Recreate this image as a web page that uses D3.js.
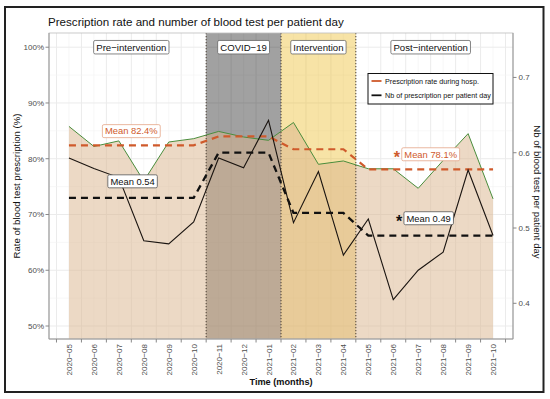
<!DOCTYPE html>
<html>
<head>
<meta charset="utf-8">
<script src="https://cdn.jsdelivr.net/npm/d3@7"></script>
<style>
  html, body { margin: 0; padding: 0; background: #fff; }
  svg { display: block; }
  text { font-family: "Liberation Sans", Arial, Helvetica, sans-serif; }
</style>
</head>
<body>
<svg id="chart" width="550" height="399"></svg>
<script>
// ---------- data ----------
const months = ["2020-05","2020-06","2020-07","2020-08","2020-09","2020-10","2020-11","2020-12","2021-01",
                "2021-02","2021-03","2021-04","2021-05","2021-06","2021-07","2021-08","2021-09","2021-10"];
const prescriptionRate = [85.8, 82.2, 83.2, 76.0, 83.0, 83.6, 84.9, 83.9, 83.3,
                          86.5, 79.0, 79.6, 78.2, 78.2, 74.7, 79.7, 84.5, 72.8];
const testsPerPatientDay = [0.593, 0.579, 0.567, 0.483, 0.479, 0.508, 0.593, 0.580, 0.643,
                            0.507, 0.575, 0.464, 0.512, 0.405, 0.444, 0.468, 0.577, 0.490];
const phases = ["Pre-intervention", "COVID-19", "Intervention", "Post-intervention"];
const phaseFirst = [0, 6, 9, 12];
const phaseLast = [5, 8, 11, 17];
const rateMeans = [82.4, 84.0, 81.7, 78.1];
const nbMeans = [0.54, 0.60, 0.52, 0.49];
const leftTicks = [50, 60, 70, 80, 90, 100];
const rightTicks = [0.4, 0.5, 0.6, 0.7];
const legendLabels = ["Prescription rate during hosp.", "Nb of prescription per patient day"];

// ---------- layout ----------
const svg = d3.select("#chart");
const L = 49, R = 513, T = 33, B = 339;
const dash = s => s.replace(/-/g, "\u2212");

const x = d3.scaleLinear().domain([-0.8, 17.8]).range([L, R]);
const yL = d3.scaleLinear().domain([47.67, 102.55]).range([B, T]);
const yR = d3.scaleLinear().domain([0.3526, 0.7590]).range([B, T]);

const idx = months.map((m, i) => i);
const phaseOf = i => phaseFirst.findIndex((f, p) => i >= f && i <= phaseLast[p]);
const rateMeanSeries = idx.map(i => rateMeans[phaseOf(i)]);
const nbMeanSeries = idx.map(i => nbMeans[phaseOf(i)]);

// outer frame
svg.append("rect").attr("x", 5).attr("y", 7).attr("width", 538.5).attr("height", 385)
  .attr("fill", "#fff").attr("stroke", "#222").attr("stroke-width", 2);

// title
svg.append("text").attr("x", 48).attr("y", 26).attr("font-size", 11.6).attr("fill", "#111")
  .text("Prescription rate and number of blood test per patient day");

// ---------- grid ----------
const g = svg.append("g");
const minorX = idx;
const majorX = d3.range(-0.5, 18, 1);
g.selectAll(".gxm").data(minorX).enter().append("line")
  .attr("x1", d => x(d)).attr("x2", d => x(d)).attr("y1", T).attr("y2", B)
  .attr("stroke", "#f2f2f2").attr("stroke-width", 0.6);
g.selectAll(".gxM").data(majorX).enter().append("line")
  .attr("x1", d => x(d)).attr("x2", d => x(d)).attr("y1", T).attr("y2", B)
  .attr("stroke", "#ebebeb").attr("stroke-width", 1);
g.selectAll(".gym").data(d3.range(55, 101, 10)).enter().append("line")
  .attr("x1", L).attr("x2", R).attr("y1", d => yL(d)).attr("y2", d => yL(d))
  .attr("stroke", "#f2f2f2").attr("stroke-width", 0.6);
g.selectAll(".gyM").data(leftTicks).enter().append("line")
  .attr("x1", L).attr("x2", R).attr("y1", d => yL(d)).attr("y2", d => yL(d))
  .attr("stroke", "#ebebeb").attr("stroke-width", 1);

// ---------- phase rectangles ----------
const rectFill = [null, "rgba(0,0,0,0.37)", "rgba(235,185,32,0.40)", null];
phases.forEach((p, k) => {
  if (!rectFill[k]) return;
  svg.append("rect")
    .attr("x", x(phaseFirst[k] - 0.5)).attr("width", x(phaseLast[k] + 0.5) - x(phaseFirst[k] - 0.5))
    .attr("y", T).attr("height", B - T).attr("fill", rectFill[k]);
});

// ---------- area + green line ----------
svg.append("path").datum(idx)
  .attr("d", d3.area().x(i => x(i)).y0(B).y1(i => yL(prescriptionRate[i])))
  .attr("fill", "rgba(217,180,140,0.5)");
svg.append("path").datum(idx)
  .attr("d", d3.line().x(i => x(i)).y(i => yL(prescriptionRate[i])))
  .attr("fill", "none").attr("stroke", "#4a8d3c").attr("stroke-width", 1);

// dotted phase separators
[phaseLast[0], phaseLast[1], phaseLast[2]].forEach(l => {
  svg.append("line").attr("x1", x(l + 0.5)).attr("x2", x(l + 0.5)).attr("y1", T).attr("y2", B)
    .attr("stroke", "#4a3f33").attr("stroke-width", 1).attr("stroke-dasharray", "1.2,1.8");
});

// ---------- mean dashed lines ----------
svg.append("path").datum(idx)
  .attr("d", d3.line().x(i => x(i)).y(i => yL(rateMeanSeries[i])))
  .attr("fill", "none").attr("stroke", "#cf5a2b").attr("stroke-width", 2.2).attr("stroke-dasharray", "7,5");
svg.append("path").datum(idx)
  .attr("d", d3.line().x(i => x(i)).y(i => yR(nbMeanSeries[i])))
  .attr("fill", "none").attr("stroke", "#111").attr("stroke-width", 2.3).attr("stroke-dasharray", "7,5");

// black line
svg.append("path").datum(idx)
  .attr("d", d3.line().x(i => x(i)).y(i => yR(testsPerPatientDay[i])))
  .attr("fill", "none").attr("stroke", "#1a1410").attr("stroke-width", 1.1);

// ---------- panel border & axes ----------
svg.append("rect").attr("x", L).attr("y", T).attr("width", R - L).attr("height", B - T)
  .attr("fill", "none").attr("stroke", "#bdbdbd").attr("stroke-width", 0.8);
svg.append("line").attr("x1", L).attr("x2", L).attr("y1", T).attr("y2", B).attr("stroke", "#999");
svg.append("line").attr("x1", L).attr("x2", R).attr("y1", B).attr("y2", B).attr("stroke", "#999");
svg.append("line").attr("x1", R).attr("x2", R).attr("y1", T).attr("y2", B).attr("stroke", "#999");

const tickCol = "#4d4d4d";
leftTicks.forEach(t => {
  svg.append("line").attr("x1", L - 3.5).attr("x2", L).attr("y1", yL(t)).attr("y2", yL(t)).attr("stroke", "#888");
  svg.append("text").attr("x", L - 5).attr("y", yL(t)).attr("dy", "0.35em").attr("text-anchor", "end")
    .attr("font-size", 8).attr("fill", tickCol).text(t + "%");
});
rightTicks.forEach(t => {
  svg.append("line").attr("x1", R).attr("x2", R + 3.5).attr("y1", yR(t)).attr("y2", yR(t)).attr("stroke", "#888");
  svg.append("text").attr("x", R + 5.5).attr("y", yR(t)).attr("dy", "0.35em").attr("text-anchor", "start")
    .attr("font-size", 8).attr("fill", tickCol).text(t.toFixed(1));
});
majorX.forEach(t => {
  svg.append("line").attr("x1", x(t)).attr("x2", x(t)).attr("y1", B).attr("y2", B + 3.5).attr("stroke", "#888");
});
months.forEach((m, i) => {
  svg.append("text").attr("transform", `translate(${x(i) + 3},${B + 5}) rotate(-90)`)
    .attr("text-anchor", "end").attr("font-size", 8).attr("fill", tickCol).text(dash(m));
});

// axis titles
svg.append("text").attr("x", x(8.5)).attr("y", 385).attr("text-anchor", "middle")
  .attr("font-size", 9.2).attr("font-weight", "bold").attr("fill", "#111").text("Time (months)");
svg.append("text").attr("transform", `translate(19.5,${(T + B) / 2}) rotate(-90)`).attr("text-anchor", "middle")
  .attr("font-size", 9.6).attr("fill", "#111").text("Rate of blood test prescription (%)");
svg.append("text").attr("transform", `translate(533.5,${(T + B) / 2 + 6}) rotate(90)`).attr("text-anchor", "middle")
  .attr("font-size", 9.6).attr("fill", "#111").text("Nb of blood test per patient day");

// ---------- labels ----------
function label(cx, cy, txt, opts) {
  const gg = svg.append("g");
  const t = gg.append("text").attr("x", cx).attr("y", cy).attr("dy", "0.35em").attr("text-anchor", "middle")
    .attr("font-size", opts.size).attr("fill", opts.color).text(txt);
  const bb = t.node().getBBox();
  gg.insert("rect", "text").attr("x", bb.x - opts.padX).attr("y", cy - opts.h / 2)
    .attr("width", bb.width + 2 * opts.padX).attr("height", opts.h).attr("rx", 1.5)
    .attr("fill", "#fff").attr("stroke", opts.border).attr("stroke-width", 0.8);
  return bb;
}
phases.forEach((p, k) => {
  label(x((phaseFirst[k] + phaseLast[k]) / 2), yL(100), dash(p),
        { size: 9.6, color: "#111", border: "#666", padX: 2.6, h: 13.5 });
});
const orange = "#cf5a2b";
label(x((phaseFirst[0] + phaseLast[0]) / 2), yL(rateMeans[0] + 2.55), "Mean " + rateMeans[0] + "%",
      { size: 9.4, color: orange, border: "#e4a688", padX: 2.6, h: 13 });
label(x((phaseFirst[0] + phaseLast[0]) / 2 + 0.05), yR(nbMeans[0] + 0.022), "Mean " + nbMeans[0],
      { size: 9.4, color: "#111", border: "#555", padX: 2.6, h: 13 });
const cy1 = yL(rateMeans[3] + 2.7);
const b1 = label(x((phaseFirst[3] + phaseLast[3]) / 2), cy1, "Mean " + rateMeans[3] + "%",
      { size: 9.4, color: orange, border: "#e4a688", padX: 2.6, h: 13 });
svg.append("text").attr("x", b1.x - 7.5).attr("y", cy1 + 9).attr("text-anchor", "middle")
  .attr("font-size", 16).attr("font-weight", "bold").attr("fill", orange).text("*");
const cy2 = yR(nbMeans[3] + 0.023);
const b2 = label(x((phaseFirst[3] + phaseLast[3]) / 2 - 0.08), cy2, "Mean " + nbMeans[3],
      { size: 9.4, color: "#111", border: "#555", padX: 2.6, h: 13 });
svg.append("text").attr("x", b2.x - 7.5).attr("y", cy2 + 9).attr("text-anchor", "middle")
  .attr("font-size", 16).attr("font-weight", "bold").attr("fill", "#111").text("*");

// ---------- legend ----------
const lg = svg.append("g");
lg.append("rect").attr("x", 368).attr("y", 73.5).attr("width", 125).attr("height", 30.5)
  .attr("fill", "#fff").attr("stroke", "#111").attr("stroke-width", 1);
const legendCols = [orange, "#111"];
legendLabels.forEach((t, k) => {
  const yy = 81 + k * 14.3;
  lg.append("line").attr("x1", 371.5).attr("x2", 381.5).attr("y1", yy).attr("y2", yy)
    .attr("stroke", legendCols[k]).attr("stroke-width", 1.8);
  lg.append("text").attr("x", 385).attr("y", yy).attr("dy", "0.35em").attr("font-size", 7.2)
    .attr("fill", "#111").text(t);
});
</script>
</body>
</html>
